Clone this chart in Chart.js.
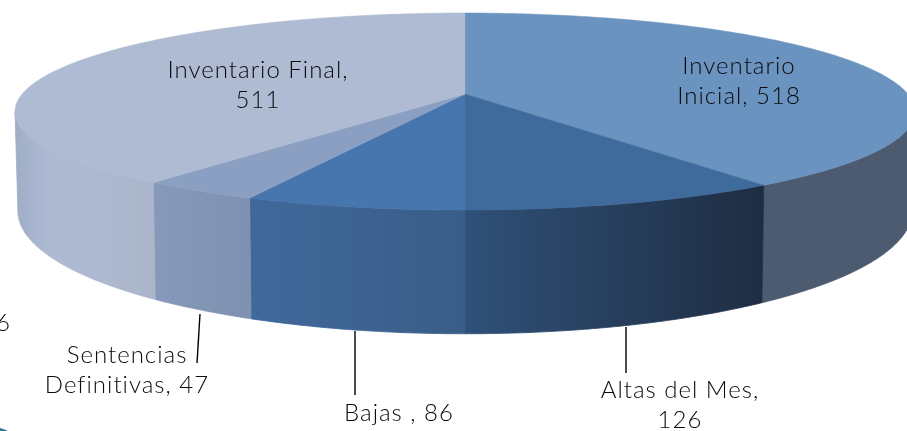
<!DOCTYPE html>
<html lang="es">
<head>
<meta charset="UTF-8">
<title>Inventario</title>
<script src="https://cdn.jsdelivr.net/npm/chart.js@4"></script>
<style>
  html, body { margin: 0; padding: 0; background: #fff; overflow: hidden; }
  canvas { display: block; }
</style>
</head>
<body>
<canvas id="myChart" width="907" height="431"></canvas>
<script>
const categories = ['Inventario Inicial', 'Altas del Mes', 'Bajas ', 'Sentencias Definitivas', 'Inventario Final'];
const values = [518, 126, 86, 47, 511];

const topColors = ['#6b93bf', '#3f6a9c', '#4776ae', '#8a9fc2', '#aebbd2'];
const wallColors = [
    ['#4c5b70', '#4c5b70'],
    ['#2f5078', '#1e2d42'],
    ['#40699b', '#3a5d88'],
    ['#8799ba', '#7f91b0'],
    ['#9fadc7', '#aebad3', '#aeb9d1', '#adb8cf', '#aab5ca']
];

// where each label goes: [text lines, centre x, first baseline y]
const labelSpots = [
    { lines: v => ['Inventario', 'Inicial, ' + v], x: 739, y: 74 },
    { lines: v => ['Altas del Mes,', '' + v], x: 680, y: 398 },
    { lines: v => ['Bajas , ' + v], x: 399, y: 421 },
    { lines: v => ['Sentencias', 'Definitivas, ' + v], x: 127, y: 363 },
    { lines: v => ['Inventario Final,', '' + v], x: 258, y: 78 }
];
const leaderLines = [
    [626, 327, 626, 373],
    [355, 331, 355, 395],
    [200, 314, 197, 363]
];

// perspective of the disc: far edge is squeezed by p
const p = 0.178;
const topDisc = { cx: 465, cy: 94, a: 442.8, b: 95.4 };
const lowDisc = { cx: 465, cy: 189, a: 440, b: 119 };

function project(disc, theta) {
    const u = Math.sin(theta), d = Math.cos(theta);
    const w = 1 + p * d;
    return [disc.cx + disc.a * u / w, disc.cy - disc.b * d / w];
}

const pie3d = {
    id: 'pie3d',
    beforeDatasetDraw(chart, args) {
        const ctx = chart.ctx;
        const arcs = args.meta.data;
        const step = Math.PI / 360;

        // side walls first
        arcs.forEach((arc, i) => {
            const a0 = arc.startAngle + Math.PI / 2, a1 = arc.endAngle + Math.PI / 2;
            const limitA = Math.PI / 2 + Math.asin(p), limitB = 3 * Math.PI / 2 - Math.asin(p);
            const from = Math.max(a0, limitA);
            const to = Math.min(a1, limitB);
            if (to <= from) return;
            ctx.beginPath();
            let first = true;
            for (let t = from; t < to + step; t += step) {
                const q = project(topDisc, Math.min(t, to));
                if (first) { ctx.moveTo(q[0], q[1]); first = false; } else ctx.lineTo(q[0], q[1]);
            }
            for (let t = to; t > from - step; t -= step) {
                const q = project(lowDisc, Math.max(t, from));
                ctx.lineTo(q[0], q[1]);
            }
            ctx.closePath();
            const xa = project(topDisc, from)[0], xb = project(topDisc, to)[0];
            const g = ctx.createLinearGradient(Math.min(xa, xb), 0, Math.max(xa, xb), 0);
            const stops = wallColors[i];
            stops.forEach((c, k) => g.addColorStop(k / (stops.length - 1), c));
            ctx.fillStyle = g;
            ctx.strokeStyle = g;
            ctx.lineWidth = 0.8;
            ctx.fill();
            ctx.stroke(); // hides the light seam next to the top face
        });

        // top face
        arcs.forEach(arc => {
            const a0 = arc.startAngle + Math.PI / 2, a1 = arc.endAngle + Math.PI / 2;
            ctx.beginPath();
            ctx.moveTo(topDisc.cx, topDisc.cy);
            for (let t = a0; t < a1 + step; t += step) {
                const q = project(topDisc, Math.min(t, a1));
                ctx.lineTo(q[0], q[1]);
            }
            ctx.closePath();
            ctx.fillStyle = arc.options.backgroundColor;
            ctx.strokeStyle = arc.options.backgroundColor;
            ctx.lineWidth = 0.5;
            ctx.fill();
            ctx.stroke();
        });
        return false;
    },
    afterDatasetsDraw(chart) {
        const ctx = chart.ctx;
        ctx.save();
        ctx.strokeStyle = '#000';
        ctx.lineWidth = 1.4;
        leaderLines.forEach(l => {
            ctx.beginPath();
            ctx.moveTo(l[0], l[1]);
            ctx.lineTo(l[2], l[3]);
            ctx.stroke();
        });
        ctx.fillStyle = '#0a0a0a';
        ctx.font = '300 24px Lato';
        ctx.letterSpacing = '1px';
        ctx.textAlign = 'center';
        ctx.textBaseline = 'alphabetic';
        labelSpots.forEach((s, i) => {
            s.lines(values[i]).forEach((line, k) => ctx.fillText(line, s.x, s.y + k * 30));
        });
        // cut off piece of a label at the left edge
        ctx.textAlign = 'left';
        ctx.fillText('6', -4, 331);
        // corner of a teal shape that pokes in at the bottom left
        ctx.fillStyle = '#2a7d8c';
        ctx.beginPath();
        ctx.moveTo(0, 428);
        ctx.quadraticCurveTo(4, 429, 8, 431);
        ctx.lineTo(0, 431);
        ctx.closePath();
        ctx.fill();
        ctx.restore();
    }
};

new Chart(document.getElementById('myChart').getContext('2d'), {
    type: 'pie',
    data: {
        labels: categories,
        datasets: [{ data: values, backgroundColor: topColors, borderWidth: 0 }]
    },
    options: {
        responsive: false,
        animation: false,
        plugins: { legend: { display: false }, tooltip: { enabled: false } }
    },
    plugins: [pie3d]
});
</script>
</body>
</html>
